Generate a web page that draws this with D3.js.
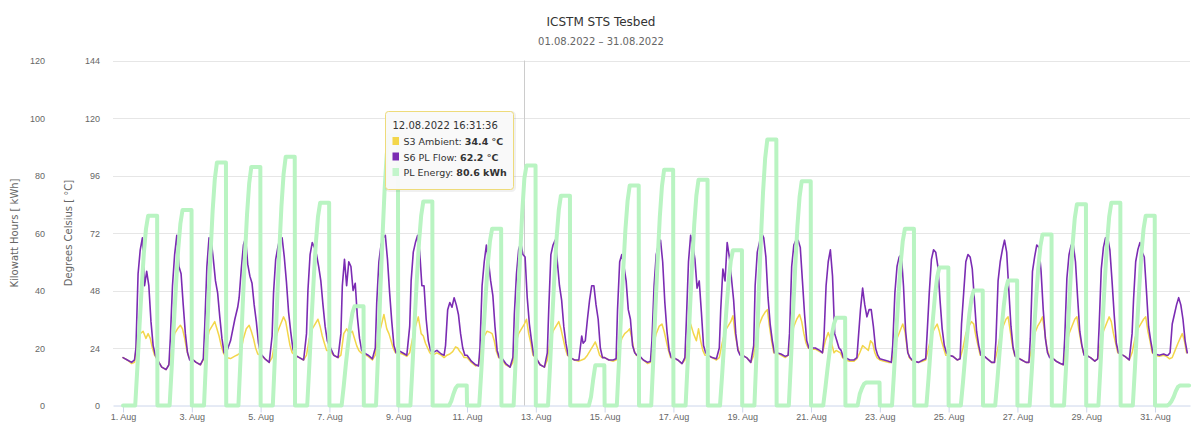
<!DOCTYPE html>
<html lang="de">
<head>
<meta charset="UTF-8">
<title>ICSTM STS Tesbed</title>
<script src="https://d3js.org/d3.v7.min.js"></script>
<style>
  body { margin: 0; background: #fff; }
  svg { display: block; font-family: "DejaVu Sans", Verdana, sans-serif; }
  .grid line { stroke: #e6e6e6; stroke-width: 1; }
  .yaxis text { fill: #666; font-size: 9px; }
  .xaxis text { fill: #666; font-size: 9px; }
  .xaxis path, .xaxis line { stroke: #ccd6eb; }
  .axis-title { fill: #666; font-size: 10px; }
  .series { fill: none; stroke-linejoin: round; stroke-linecap: round; }
</style>
</head>
<body>
<svg width="1193" height="423"></svg>
<script>
// --- data (one row per day, 1. Aug .. 31. Aug) ---
const title = "ICSTM STS Tesbed";
const subtitle = "01.08.2022 – 31.08.2022";

const tickDays = [1, 3, 5, 7, 9, 11, 13, 15, 17, 19, 21, 23, 25, 27, 29, 31];
const tickLabels = tickDays.map(d => d + ". Aug");
const tempTicks = [0, 24, 48, 72, 96, 120, 144];
const energyTicks = [0, 20, 40, 60, 80, 100, 120];

// S6 PL Flow [°C], hours of day
const flowHours = [0, 3, 6, 8, 9, 10.5, 12, 13.5, 15, 16.5, 18, 19.5, 21, 22.5];
const flow = [
  [20, 19, 18, 19, 24, 55, 65, 70, 50, 56, 50, 35, 25, 21],
  [19, 16, 15, 17, 28, 50, 63, 71, 58, 55, 42, 30, 22, 19],
  [19.5, 18, 17, 19.5, 33, 58, 70, 69, 61, 52, 47, 37, 28, 22],
  [22, 27, 36, 41, 45, 57, 67, 70, 59, 54, 51, 42, 35, 26],
  [21.6, 19.5, 18, 29, 47, 61, 66, 70, 70, 62, 51.6, 39, 30.7, 23.7],
  [21, 20, 19, 30, 48, 63, 68, 66, 63, 58, 52, 42, 33, 27],
  [25, 21, 20, 30, 50, 61, 50, 60, 58, 48, 51, 37, 28, 23],
  [22, 21, 19.5, 24, 43, 60, 67, 70, 71, 61, 47, 35, 25, 22],
  [23, 22, 21, 33, 52, 64, 68, 71, 64, 50, 50, 36, 27, 23],
  [22, 23, 21.5, 21, 25, 40, 43, 41, 45, 42, 38, 30, 24, 21],
  [21, 18.5, 17, 16.5, 24, 50, 60, 67, 60, 52, 46, 33, 23, 20],
  [20, 17.5, 16, 20, 38, 55, 65, 68, 63, 62, 45, 34, 27, 21],
  [20, 17, 16, 22, 40, 63, 67, 69, 60, 50, 44, 33, 26, 21],
  [20, 19, 19, 29, 26, 27, 36, 44, 50, 50, 42, 36, 24, 20],
  [20, 19, 19, 19.5, 40, 60, 63, 58, 52, 40, 36, 25, 22, 21],
  [21, 19, 18, 18.5, 27, 50, 63, 67, 69, 60, 43, 31, 23, 20],
  [20, 19, 17.5, 20, 35, 60, 71, 67, 61, 49, 52, 39, 25, 22],
  [21, 20, 19.5, 24, 40, 57, 52, 68, 62, 53, 44, 30, 23, 21],
  [21, 20, 18, 25, 50, 64, 68, 72, 70, 62, 45, 34, 27, 22],
  [22, 21.5, 20.5, 21, 30, 58, 67, 69, 69, 66, 52, 38, 27, 24],
  [24, 24, 23, 22, 28, 50, 60, 65, 54, 30, 27, 24, 23, 20],
  [20, 19, 19, 20, 28, 40, 49, 42, 37, 40, 40, 33, 24, 21],
  [19.5, 19, 18.5, 18, 25, 47, 58, 62, 63, 50, 31, 22, 20, 19],
  [18.5, 18, 19, 19.5, 30, 47, 61, 65, 64, 58, 44, 32, 25, 22],
  [21, 20.5, 19, 19.5, 34, 47, 60, 63, 62, 57, 44, 31, 25, 21],
  [21, 19.5, 18, 18, 27, 52, 60, 65, 69, 64, 48, 33, 24, 20.5],
  [20, 19, 18, 18, 28, 56, 62, 67, 66, 56, 40, 28, 22, 20],
  [20, 18.5, 17.5, 17, 28, 53, 63, 67, 67, 60, 45, 31, 25, 21],
  [21, 20, 18.5, 19.5, 33, 57, 66, 70, 70, 65, 52, 38, 26, 22],
  [21.5, 20.5, 19, 30, 44, 60, 65, 68, 64, 62, 48, 33, 27, 22],
  [21.5, 21, 21.5, 21, 21, 22, 34, 38, 42, 45, 42, 36, 27, 22]
];

// S3 Ambient [°C]
const ambientHours = [0, 3, 6, 8, 10, 12, 14, 16, 17.5, 19, 20.5, 22];
const ambient = [
  [20, 19, 17.5, 18, 28, 30, 31, 28, 30, 28, 24, 21],
  [19, 16, 15, 17, 23, 30, 32, 33.5, 32, 28, 23, 20],
  [19.5, 18, 17, 19, 25, 31, 33, 35, 32, 29, 25, 22],
  [20, 19.6, 20.6, 21.2, 22, 28, 32, 33.5, 31, 28, 24, 21.5],
  [21, 19.5, 18, 20, 27, 31, 34, 37, 35, 30, 25, 22],
  [21, 20, 19, 21, 28, 32, 34, 36, 33, 29, 26, 23],
  [23, 21, 20, 21, 30, 32, 30, 31, 28, 25, 23, 22],
  [21.5, 20.5, 19, 21, 29, 33, 38, 32, 30, 27, 24, 22],
  [22, 21.5, 20.5, 22, 28, 33, 37, 30, 29, 26, 24, 22],
  [21, 22, 21, 20, 21, 21.5, 22.5, 24.5, 24, 22.5, 21.5, 20],
  [20, 18, 16.5, 17, 24, 29, 31, 30.5, 30, 27, 22.5, 20],
  [19.5, 17, 16, 18, 26, 30, 32, 34, 36, 30, 26, 21],
  [20, 17, 16, 19, 27, 31, 33, 35, 32, 28, 24, 21],
  [20, 19, 18.5, 19, 19.5, 21, 23, 25, 26.5, 24, 21, 20],
  [20, 19, 18.5, 19, 24, 28, 30, 31, 32, 28, 23, 21],
  [20.5, 19, 17.5, 18, 25, 30, 33, 34, 31, 27, 23, 20],
  [20, 19, 17.5, 19, 26, 34, 30, 27, 32, 27, 23, 21],
  [21, 20, 19, 20, 26, 31, 33, 35, 37.5, 30, 25, 22],
  [21, 20, 18, 21, 29, 34, 37, 39, 40, 33, 27, 22],
  [22, 21, 20, 21, 28, 33, 36, 38, 35, 30, 26, 24],
  [23.5, 23.5, 22.5, 22, 27, 30.5, 27, 22, 23, 22.5, 22, 20],
  [19, 18.5, 18.5, 19.5, 22, 25, 24, 23, 27, 26, 22, 20],
  [19, 18.5, 18, 18, 22, 28, 31, 34, 31, 24, 20, 19],
  [18.5, 18, 18.5, 19, 24, 29, 32, 34, 31, 27, 24, 21],
  [21, 20.5, 19, 19.5, 24, 30, 33, 35, 34, 29, 25, 21],
  [21, 19.5, 18, 18, 23, 29, 33, 36, 37, 31, 25, 21],
  [20, 19, 18, 18, 24, 30, 33, 35, 37, 31, 24, 21],
  [20, 18.5, 17.5, 17, 24, 30, 33, 36, 37, 31, 26, 22],
  [21, 20, 18.5, 19.5, 26, 31, 34, 37, 35, 30, 26, 22],
  [21.5, 20.5, 19, 22, 28, 32, 34, 36, 37, 31, 27, 22],
  [21, 20.5, 21, 20.5, 19.5, 20, 23, 26, 28, 30, 27, 22]
];

// PL Energy [kWh], cumulative per day
const energyHours = [0, 8.5, 10, 11.5, 13, 14.5, 16, 17.5, 23.8];
const energy = [
  [0, 0, 13.2, 27.7, 40.9, 52.8, 61.4, 66, 66],
  [0, 0, 13.6, 28.6, 42.2, 54.4, 63.2, 68, 68],
  [0, 0, 16.9, 35.5, 52.4, 67.6, 78.6, 84.5, 84.5],
  [0, 0, 16.6, 34.9, 51.5, 66.4, 77.2, 83, 83],
  [0, 0, 17.3, 36.3, 53.6, 69.2, 80.4, 86.5, 86.5],
  [0, 0, 14.1, 29.6, 43.7, 56.4, 65.6, 70.5, 70.5],
  [0, 0, 6.9, 14.5, 21.4, 27.6, 32.1, 34.5, 34.5],
  [0, 0, 18.8, 39.5, 58.3, 75.2, 87.4, 94, 94],
  [0, 0, 14.2, 29.8, 44, 56.8, 66, 71, 71],
  [0, 0, 0, 0, 1.5, 4, 6, 7, 7],
  [0, 0, 12.3, 25.8, 38.1, 49.2, 57.2, 61.5, 61.5],
  [0, 0, 16.7, 35.1, 51.8, 67, 79, 83.5, 83.5],
  [0, 0, 14.6, 30.7, 45.3, 58.4, 67.9, 73, 73],
  [0, 0, 0, 0, 0, 3, 9, 14, 14],
  [0, 0, 15.3, 32.1, 47.4, 61.2, 71.1, 76.5, 76.5],
  [0, 0, 16.4, 34.4, 50.8, 65.6, 76.3, 82, 82],
  [0, 0, 15.7, 33, 48.7, 62.8, 73, 78.5, 78.5],
  [0, 0, 10.8, 22.7, 33.5, 43.2, 50.2, 54, 54],
  [0, 0, 18.5, 38.9, 57.4, 74, 86, 92.5, 92.5],
  [0, 0, 15.6, 32.8, 48.4, 62.4, 72.5, 78, 78],
  [0, 0, 6.1, 12.8, 18.9, 24.4, 28.4, 30.5, 30.5],
  [0, 0, 4, 6, 7.5, 8, 8, 8, 8],
  [0, 0, 12.3, 25.8, 38.1, 49.2, 57.2, 61.5, 61.5],
  [0, 0, 9.6, 20.2, 29.8, 38.4, 44.6, 48, 48],
  [0, 0, 8, 16.8, 24.8, 32, 37.2, 40, 40],
  [0, 0, 8.7, 18.3, 27, 34.8, 40.5, 43.5, 43.5],
  [0, 0, 11.9, 25, 36.9, 47.6, 55.3, 59.5, 59.5],
  [0, 0, 14, 29.4, 43.4, 56, 65.1, 70, 70],
  [0, 0, 14.1, 29.6, 43.7, 56.4, 65.6, 70.5, 70.5],
  [0, 0, 13.2, 27.7, 40.9, 52.8, 61.4, 66, 66],
  [0, 0, 0.5, 1.5, 3, 5, 6.5, 7, 7]
];

// hovered point shown in the tooltip
const tooltipTime = "12.08.2022 16:31:36";
const tooltipDate = Date.UTC(2022, 7, 12, 16, 31, 36);
const tooltipRows = [
  { name: "S3 Ambient", value: "34.4 °C", color: "#f3d64a" },
  { name: "S6 PL Flow", value: "62.2 °C", color: "#7b2cb3" },
  { name: "PL Energy", value: "80.6 kWh", color: "#c3f5cb" }
];

// --- layout ---
const start = Date.UTC(2022, 7, 1);
const H = 3600e3;
const plotLeft = 113, plotRight = 1190, plotTop = 60.5, plotBottom = 405.5;

const svg = d3.select("svg");

const x = d3.scaleUtc()
  .domain([new Date(start - 7 * H), new Date(start + 744.4 * H)])
  .range([plotLeft, plotRight]);
const yTemp = d3.scaleLinear().domain([0, 144]).range([plotBottom, plotTop]);
const yEnergy = d3.scaleLinear().domain([0, 120]).range([plotBottom, plotTop]);

function toPoints(hours, rows) {
  return rows.flatMap((row, d) => row.map((v, i) => ({ t: new Date(start + (d * 24 + hours[i]) * H), v })));
}

// titles
svg.append("text").attr("x", 601).attr("y", 26).attr("text-anchor", "middle")
  .style("font-size", "12px").style("fill", "#333").text(title);
svg.append("text").attr("x", 601).attr("y", 44.5).attr("text-anchor", "middle")
  .style("font-size", "10px").style("fill", "#666").text(subtitle);

// grid
svg.append("g").attr("class", "grid")
  .selectAll("line").data(tempTicks.slice(1)).enter().append("line")
  .attr("x1", plotLeft).attr("x2", plotRight)
  .attr("y1", d => Math.round(yTemp(d)) + 0.5).attr("y2", d => Math.round(yTemp(d)) + 0.5);

// y axes (labels only)
const axTemp = svg.append("g").attr("class", "yaxis").attr("transform", "translate(100,0)")
  .call(d3.axisLeft(yTemp).tickValues(tempTicks).tickSize(0).tickPadding(0));
axTemp.select(".domain").remove();
axTemp.selectAll("text").attr("dy", "0.35em");

const axEnergy = svg.append("g").attr("class", "yaxis").attr("transform", "translate(45,0)")
  .call(d3.axisLeft(yEnergy).tickValues(energyTicks).tickSize(0).tickPadding(0));
axEnergy.select(".domain").remove();
axEnergy.selectAll("text").attr("dy", "0.35em");

svg.append("text").attr("class", "axis-title").attr("text-anchor", "middle")
  .attr("transform", "translate(17.5,233) rotate(-90)").text("Kilowatt Hours [ kWh]");
svg.append("text").attr("class", "axis-title").attr("text-anchor", "middle")
  .attr("transform", "translate(71.5,233) rotate(-90)").text("Degrees Celsius [ °C]");

// x axis
const tickDates = tickDays.map(d => new Date(Date.UTC(2022, 7, d)));
const axX = svg.append("g").attr("class", "xaxis").attr("transform", `translate(0,${plotBottom})`)
  .call(d3.axisBottom(x).tickValues(tickDates).tickFormat((d, i) => tickLabels[i])
    .tickSize(7).tickSizeOuter(0).tickPadding(1));

// crosshair
svg.append("line")
  .attr("x1", Math.round(x(new Date(tooltipDate))) - 0.5).attr("x2", Math.round(x(new Date(tooltipDate))) - 0.5)
  .attr("y1", plotTop).attr("y2", plotBottom)
  .style("stroke", "#cccccc").style("stroke-width", 1);

// series
const lineTemp = d3.line().x(d => x(d.t)).y(d => yTemp(d.v));
const lineEnergy = d3.line().x(d => x(d.t)).y(d => yEnergy(d.v));

svg.append("path").attr("class", "series")
  .attr("d", lineTemp(toPoints(ambientHours, ambient)))
  .style("stroke", tooltipRows[0].color).style("stroke-width", 1.5);
svg.append("path").attr("class", "series")
  .attr("d", lineTemp(toPoints(flowHours, flow)))
  .style("stroke", tooltipRows[1].color).style("stroke-width", 1.6);
svg.append("path").attr("class", "series")
  .attr("d", lineEnergy(toPoints(energyHours, energy)))
  .style("stroke", "#b9f4c2").style("stroke-width", 4);

// tooltip
const tip = svg.append("g").attr("transform", "translate(385.5,111.5)");
tip.append("rect").attr("x", 1).attr("y", 1).attr("width", 128).attr("height", 78).attr("rx", 3)
  .style("fill", "none").style("stroke", "rgba(0,0,0,0.06)").style("stroke-width", 3);
tip.append("rect").attr("width", 128).attr("height", 78).attr("rx", 3)
  .style("fill", "rgba(249,249,249,0.96)").style("stroke", "#eedb7a").style("stroke-width", 1);
tip.append("text").attr("x", 7).attr("y", 17.5)
  .style("font-size", "10px").style("fill", "#333").text(tooltipTime);
const row = tip.selectAll(".row").data(tooltipRows).enter().append("g")
  .attr("transform", (d, i) => `translate(0,${33.5 + i * 15.5})`);
row.append("rect").attr("x", 7).attr("y", -8).attr("width", 6.5).attr("height", 8)
  .style("fill", d => d.color);
const rowText = row.append("text").attr("x", 18).style("font-size", "9.5px").style("fill", "#333");
rowText.append("tspan").text(d => d.name + ": ");
rowText.append("tspan").style("font-weight", "bold").text(d => d.value);
</script>
</body>
</html>
